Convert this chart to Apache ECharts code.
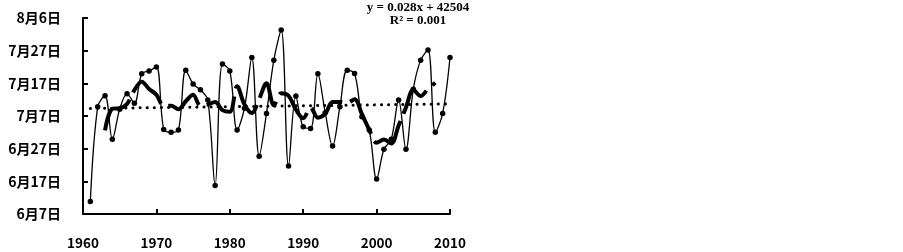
<!DOCTYPE html>
<html><head><meta charset="utf-8">
<script src="https://cdn.jsdelivr.net/npm/echarts@6/dist/echarts.min.js"></script>
<style>html,body{margin:0;padding:0;background:#fff}#c{width:903px;height:252px}</style>
</head><body><div id="c"></div>
<script>
// Days after 6月7日
const years = [1961,1962,1963,1964,1965,1966,1967,1968,1969,1970,
               1971,1972,1973,1974,1975,1976,1977,1978,1979,1980,
               1981,1982,1983,1984,1985,1986,1987,1988,1989,1990,
               1991,1992,1993,1994,1995,1996,1997,1998,1999,2000,
               2001,2002,2003,2004,2005,2006,2007,2008,2009,2010];
const onsetDays = [3.8,32.8,36.2,22.9,32.1,36.8,33.9,42.9,43.8,45.0,
                   25.9,25.0,25.7,44.0,39.8,38.0,34.9,8.7,45.9,43.8,
                   25.7,32.4,47.9,17.7,30.8,47.1,56.3,14.7,36.1,26.7,
                   26.2,42.9,31.0,20.8,32.8,44.0,43.0,29.8,25.7,10.7,
                   19.8,22.9,34.9,19.8,38.2,47.1,50.2,25.0,30.8,47.9];
const maYears = [1963,1964,1965,1966,1967,1968,1969,1970,1971,1972,
                 1973,1974,1975,1976,1977,1978,1979,1980,1981,1982,
                 1983,1984,1985,1986,1987,1988,1989,1990,1991,1992,
                 1993,1994,1995,1996,1997,1998,1999,2000,2001,2002,
                 2003,2004,2005,2006,2007,2008];
const maDays = [25.6,32.2,32.4,33.7,37.9,40.5,38.3,36.5,33.1,33.1,
                32.1,34.5,36.5,33.1,33.5,34.3,31.8,31.3,39.1,33.5,
                30.9,35.2,40.0,33.3,37.0,36.2,32.0,29.3,32.6,29.5,
                30.7,34.3,34.3,34.1,35.1,30.6,25.8,21.8,22.8,21.6,
                27.1,32.6,38.0,36.1,38.3,40.2];
const trendYears = [1961, 2010];
const trendDays = [32.3, 33.7];
const yTickLabels = ['6月7日','6月17日','6月27日','7月7日','7月17日','7月27日','8月6日'];
const equationText = 'y = 0.028x + 42504';
const r2Text = 'R² = 0.001';

const chart = echarts.init(document.getElementById('c'), null, {renderer:'canvas'});
const lab = {fontFamily:'"Noto Sans CJK SC","Noto Sans",sans-serif', fontWeight:'bold', color:'#000'};
chart.setOption({
  animation:false,
  backgroundColor:'#fff',
  grid:{left:83, right:453, top:18, bottom:38, containLabel:false},
  xAxis:{type:'value', min:1960, max:2010, interval:10,
    axisLine:{show:true, lineStyle:{color:'#000', width:2}},
    axisTick:{show:true, inside:true, length:5, lineStyle:{color:'#000', width:2}},
    splitLine:{show:false},
    axisLabel:Object.assign({margin:22, fontSize:13.5, formatter:v=>String(v)}, lab)},
  yAxis:{type:'value', min:0, max:60, interval:10,
    axisLine:{show:true, lineStyle:{color:'#000', width:2}},
    axisTick:{show:true, inside:true, length:5, lineStyle:{color:'#000', width:2}},
    splitLine:{show:false},
    axisLabel:Object.assign({margin:22, fontSize:14, formatter:v=>yTickLabels[Math.round(v/10)]}, lab)},
  graphic:[
    {type:'text', x:418, y:1, style:{text:equationText, textAlign:'center', textVerticalAlign:'top', font:'bold 13px "Liberation Serif", serif', fill:'#000'}},
    {type:'text', x:418, y:14, style:{text:r2Text, textAlign:'center', textVerticalAlign:'top', font:'bold 13px "Liberation Serif", serif', fill:'#000'}}
  ],
  series:[
    {type:'line', name:'trend', data:trendYears.map((y,i)=>[y,trendDays[i]]), symbol:'none',
      lineStyle:{color:'#000', width:3, type:[0.1,7], cap:'round'}, z:1},
    {type:'line', name:'onset', data:years.map((y,i)=>[y,onsetDays[i]]), smooth:0.35,
      symbol:'circle', symbolSize:5.5, itemStyle:{color:'#000'},
      lineStyle:{color:'#000', width:1.3}, z:3},
    {type:'line', name:'ma5', data:maYears.map((y,i)=>[y,maDays[i]]), smooth:0.35, symbol:'none',
      lineStyle:{color:'#000', width:4, type:[44,8]}, z:2}
  ]
});
</script></body></html>
